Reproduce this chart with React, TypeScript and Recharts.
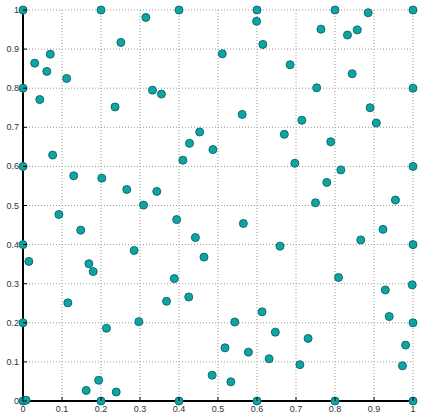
import React from "react";
import {
  ScatterChart,
  Scatter,
  XAxis,
  YAxis,
  CartesianGrid,
} from "recharts";

const ticks = [0, 0.1, 0.2, 0.3, 0.4, 0.5, 0.6, 0.7, 0.8, 0.9, 1];

const xs = [
  0, 0.2, 0.4, 0.315, 0.251, 0.03, 0.07, 0.061, 0.112, 0, 0.043, 0.332, 0.355,
  0.236, 0.076, 0, 0.13, 0.202, 0.266, 0.343, 0.309, 0.41, 0.427, 0.453, 0.487,
  0.6, 0.8, 1, 0.885, 0.599, 0.764, 0.832, 0.857, 0.615, 0.511, 0.685, 0.844,
  0.753, 1, 0.89, 0.562, 0.715, 0.906, 0.67, 0.789, 0.697, 0.815, 1, 0.779,
  0.75, 0.955, 0.092, 0.148, 0, 0.015, 0.169, 0.18, 0.115, 0.285, 0.394, 0.442,
  0.464, 0.388, 0.368, 0.425, 0, 0.297, 0.214, 0.194, 0.162, 0.239, 0.2, 0.4,
  0, 0.008, 0.485, 0.565, 0.923, 0.866, 0.659, 1, 0.809, 0.998, 0.929, 0.613,
  0.939, 0.543, 1, 0.647, 0.731, 0.518, 0.578, 0.981, 0.631, 0.71, 0.973,
  0.533, 0.6, 0.8, 1,
];

const ys = [
  1, 1, 1, 0.981, 0.917, 0.864, 0.887, 0.843, 0.825, 0.8, 0.771, 0.795, 0.785,
  0.752, 0.629, 0.6, 0.576, 0.57, 0.541, 0.536, 0.501, 0.616, 0.659, 0.688,
  0.643, 1, 1, 1, 0.993, 0.971, 0.951, 0.936, 0.949, 0.912, 0.888, 0.86, 0.837,
  0.801, 0.8, 0.75, 0.733, 0.718, 0.711, 0.682, 0.663, 0.608, 0.591, 0.6, 0.559,
  0.507, 0.514, 0.477, 0.437, 0.4, 0.357, 0.351, 0.331, 0.251, 0.385, 0.464,
  0.418, 0.368, 0.313, 0.255, 0.266, 0.2, 0.203, 0.186, 0.053, 0.027, 0.023, 0,
  0, 0, 0.002, 0.066, 0.454, 0.439, 0.412, 0.396, 0.4, 0.316, 0.297, 0.284,
  0.228, 0.216, 0.202, 0.2, 0.176, 0.16, 0.136, 0.125, 0.143, 0.108, 0.093,
  0.09, 0.049, 0, 0, 0,
];

const points = xs.map((x, i) => ({ x, y: ys[i] }));

const fmt = (v: number) => (v === 0 || v === 1 ? String(v) : v.toFixed(1));

const labelStyle = {
  fontFamily: "'Liberation Sans', Arial, sans-serif",
  fontSize: 9,
  fill: "#333",
};

function XTick(props: any) {
  const { x, y, payload } = props;
  return (
    <g>
      <line x1={x} x2={x} y1={y} y2={y - 4} stroke="#000" strokeWidth={1} />
      <text x={x} y={y + 11} textAnchor="middle" {...labelStyle}>
        {fmt(payload.value)}
      </text>
    </g>
  );
}

function YTick(props: any) {
  const { x, y, payload } = props;
  return (
    <g>
      <line x1={x} x2={x + 4} y1={y} y2={y} stroke="#000" strokeWidth={1} />
      <text x={x - 4} y={y + 3} textAnchor="end" {...labelStyle}>
        {fmt(payload.value)}
      </text>
    </g>
  );
}

function Dot(props: any) {
  const { cx, cy } = props;
  return (
    <circle cx={cx} cy={cy} r={4} fill="#10a3a3" stroke="#0b6e70" strokeWidth={1} />
  );
}

export default function App() {
  return (
    <div style={{ position: "absolute", left: 0, top: 0, background: "#fff" }}>
      <ScatterChart
        width={423}
        height={415}
        margin={{ top: 10, right: 10, bottom: 0, left: 0 }}
      >
        <CartesianGrid
          strokeDasharray="1 2"
          stroke="#999"
          horizontalValues={ticks}
          verticalValues={ticks}
        />
        <XAxis
          type="number"
          dataKey="x"
          domain={[0, 1]}
          ticks={ticks}
          interval={0}
          height={14}
          tickSize={0}
          tickMargin={0}
          tickLine={false}
          axisLine={{ stroke: "#000", strokeWidth: 2 }}
          tick={<XTick />}
        />
        <YAxis
          type="number"
          dataKey="y"
          domain={[0, 1]}
          ticks={ticks}
          interval={0}
          width={23}
          tickSize={0}
          tickMargin={0}
          tickLine={false}
          axisLine={{ stroke: "#000", strokeWidth: 2 }}
          tick={<YTick />}
        />
        <Scatter data={points} shape={<Dot />} isAnimationActive={false} />
      </ScatterChart>
    </div>
  );
}
